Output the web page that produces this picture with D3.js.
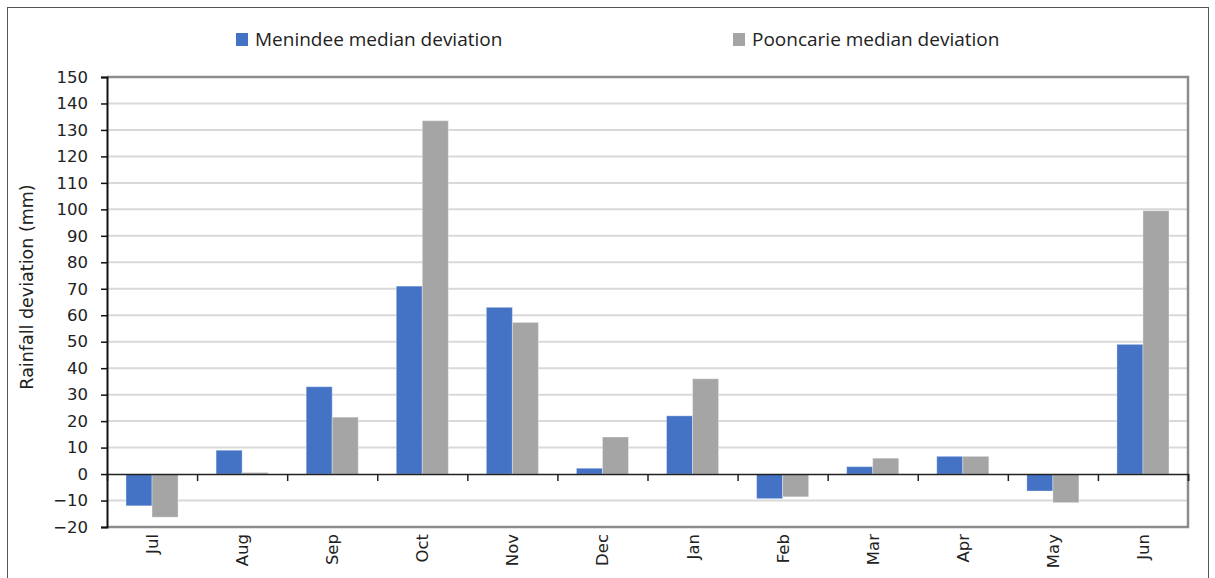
<!DOCTYPE html>
<html>
<head>
<meta charset="utf-8">
<script src="https://cdn.jsdelivr.net/npm/d3@7"></script>
<style>
  html, body { margin: 0; padding: 0; background: #fff; }
  svg { display: block; }
  text { font-family: "DejaVu Sans", sans-serif; fill: #222; }
</style>
</head>
<body>
<svg id="chart" width="1215" height="578"></svg>
<script>
// Monthly rainfall deviation from median (mm), July to June
const months = ["Jul", "Aug", "Sep", "Oct", "Nov", "Dec", "Jan", "Feb", "Mar", "Apr", "May", "Jun"];
const seriesNames = ["Menindee median deviation", "Pooncarie median deviation"];
const menindee = [-12, 9, 33, 71, 63, 2.2, 22, -9.3, 2.8, 6.7, -6.4, 49];
const pooncarie = [-16.3, 0.6, 21.5, 133.5, 57.3, 14, 36, -8.6, 6, 6.7, -10.8, 99.5];
const yTicks = d3.range(-20, 151, 10);
const colors = ["#4472C4", "#A5A5A5"];

const svg = d3.select("#chart");
const plot = { left: 107, right: 1188, top: 77, bottom: 527 };

// Outer frame
svg.append("rect")
  .attr("x", 7.5).attr("y", 7.5)
  .attr("width", 1201).attr("height", 600)
  .attr("fill", "none").attr("stroke", "#555").attr("stroke-width", 1);

const x = d3.scaleBand().domain(months).range([plot.left, plot.right]).padding(0);
const xInner = d3.scaleBand().domain(seriesNames).range([0, x.bandwidth()])
  .paddingInner(0).paddingOuter(0.73);
const y = d3.scaleLinear().domain([-20, 150]).range([plot.bottom, plot.top]);

// Horizontal gridlines
svg.append("g").selectAll("line")
  .data(yTicks.filter(t => t !== 0 && t !== -20 && t !== 150))
  .join("line")
  .attr("x1", plot.left).attr("x2", plot.right)
  .attr("y1", d => y(d)).attr("y2", d => y(d))
  .attr("stroke", "#d9d9d9").attr("stroke-width", 2);

// Plot area border (top, right, bottom)
svg.append("path")
  .attr("d", `M${plot.left},${plot.top}H${plot.right}V${plot.bottom}H${plot.left}`)
  .attr("fill", "none").attr("stroke", "#8c8c8c").attr("stroke-width", 2.5);

// Bars
const rows = months.map((m, i) => ({ month: m, values: [menindee[i], pooncarie[i]] }));
const groups = svg.append("g").selectAll("g")
  .data(rows).join("g")
  .attr("transform", d => `translate(${x(d.month)},0)`);
groups.selectAll("rect")
  .data(d => d.values.map((v, j) => ({ name: seriesNames[j], value: v, color: colors[j] })))
  .join("rect")
  .attr("x", d => xInner(d.name))
  .attr("width", xInner.bandwidth())
  .attr("y", d => y(Math.max(0, d.value)))
  .attr("height", d => Math.abs(y(d.value) - y(0)))
  .attr("fill", d => d.color)
  .attr("stroke", "#ffffff").attr("stroke-opacity", 0.35).attr("stroke-width", 1);

// Zero baseline with category ticks
const zeroAxis = d3.axisBottom(d3.scaleLinear().domain([0, 12]).range([plot.left, plot.right]))
  .tickValues(d3.range(1, 13)).tickSize(7).tickFormat("");
svg.append("g")
  .attr("transform", `translate(0,${y(0)})`)
  .call(zeroAxis)
  .call(g => g.select(".domain").attr("stroke", "#222").attr("stroke-width", 1.5))
  .call(g => g.selectAll(".tick line").attr("stroke", "#222").attr("stroke-width", 1.5));

// Y axis
svg.append("g")
  .attr("transform", `translate(${plot.left},0)`)
  .call(d3.axisLeft(y).tickValues(yTicks).tickSize(6).tickPadding(13).tickFormat(d3.format("d")))
  .call(g => g.select(".domain").attr("stroke", "#111").attr("stroke-width", 2))
  .call(g => g.selectAll(".tick line").attr("stroke", "#111").attr("stroke-width", 1.5))
  .call(g => g.selectAll(".tick text")
    .style("font-size", "16.5px").style("font-family", "'DejaVu Sans', sans-serif").attr("fill", "#222"));

// Month labels, rotated
svg.append("g").selectAll("text")
  .data(months).join("text")
  .attr("transform", d => `translate(${x(d) + x.bandwidth() / 2 + 6},534) rotate(-90)`)
  .attr("text-anchor", "end")
  .style("font-size", "16.5px")
  .text(d => d);

// Y axis title
svg.append("text")
  .attr("transform", `translate(33,287) rotate(-90)`)
  .attr("text-anchor", "middle")
  .style("font-size", "17.5px")
  .text("Rainfall deviation (mm)");

// Legend
const legendX = [236, 733];
const legend = svg.append("g").selectAll("g")
  .data(seriesNames).join("g")
  .attr("transform", (d, i) => `translate(${legendX[i]},33)`);
legend.append("rect")
  .attr("width", 12).attr("height", 13)
  .attr("fill", (d, i) => colors[i]);
legend.append("text")
  .attr("x", 19).attr("y", 13)
  .style("font-family", "'Open Sans', sans-serif")
  .style("font-size", "19px")
  .text(d => d);
</script>
</body>
</html>
